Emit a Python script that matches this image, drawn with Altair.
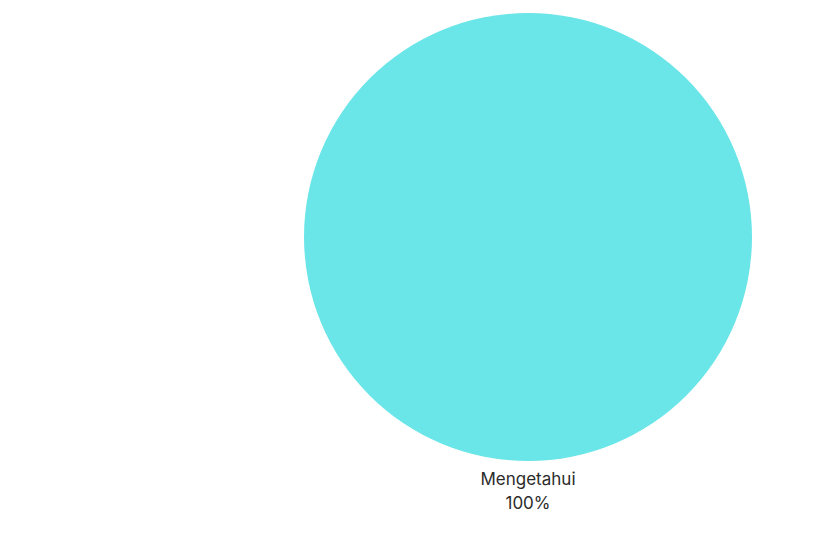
import altair as alt
import pandas as pd

categories = ["Mengetahui"]
values = [100]
percent_labels = ["100%"]

df = pd.DataFrame({
    "kategori": categories,
    "nilai": values,
    "persen": percent_labels,
})
df["label"] = df["kategori"] + "\n" + df["persen"]

base = alt.Chart(df).encode(
    theta=alt.Theta("nilai:Q", stack=True),
)

pie = base.mark_arc(outerRadius=224, innerRadius=0).encode(
    color=alt.Color("kategori:N",
                    scale=alt.Scale(domain=categories, range=["#6ae5e8"]),
                    legend=None),
)

labels = base.mark_text(
    radius=235, baseline="top", align="center", lineBreak="\n",
    lineHeight=24, fontSize=17, font="Inter", color="#2b2b2b",
).encode(text="label:N")

chart = alt.layer(pie, labels).properties(
    width=448, height=448,
    padding={"left": 304, "top": 13, "right": 88, "bottom": 99},
    background="white",
    autosize=alt.AutoSizeParams(type="none"),
).configure_view(stroke=None)

chart.save("out.html", embed_options={"renderer": "svg", "actions": False})
